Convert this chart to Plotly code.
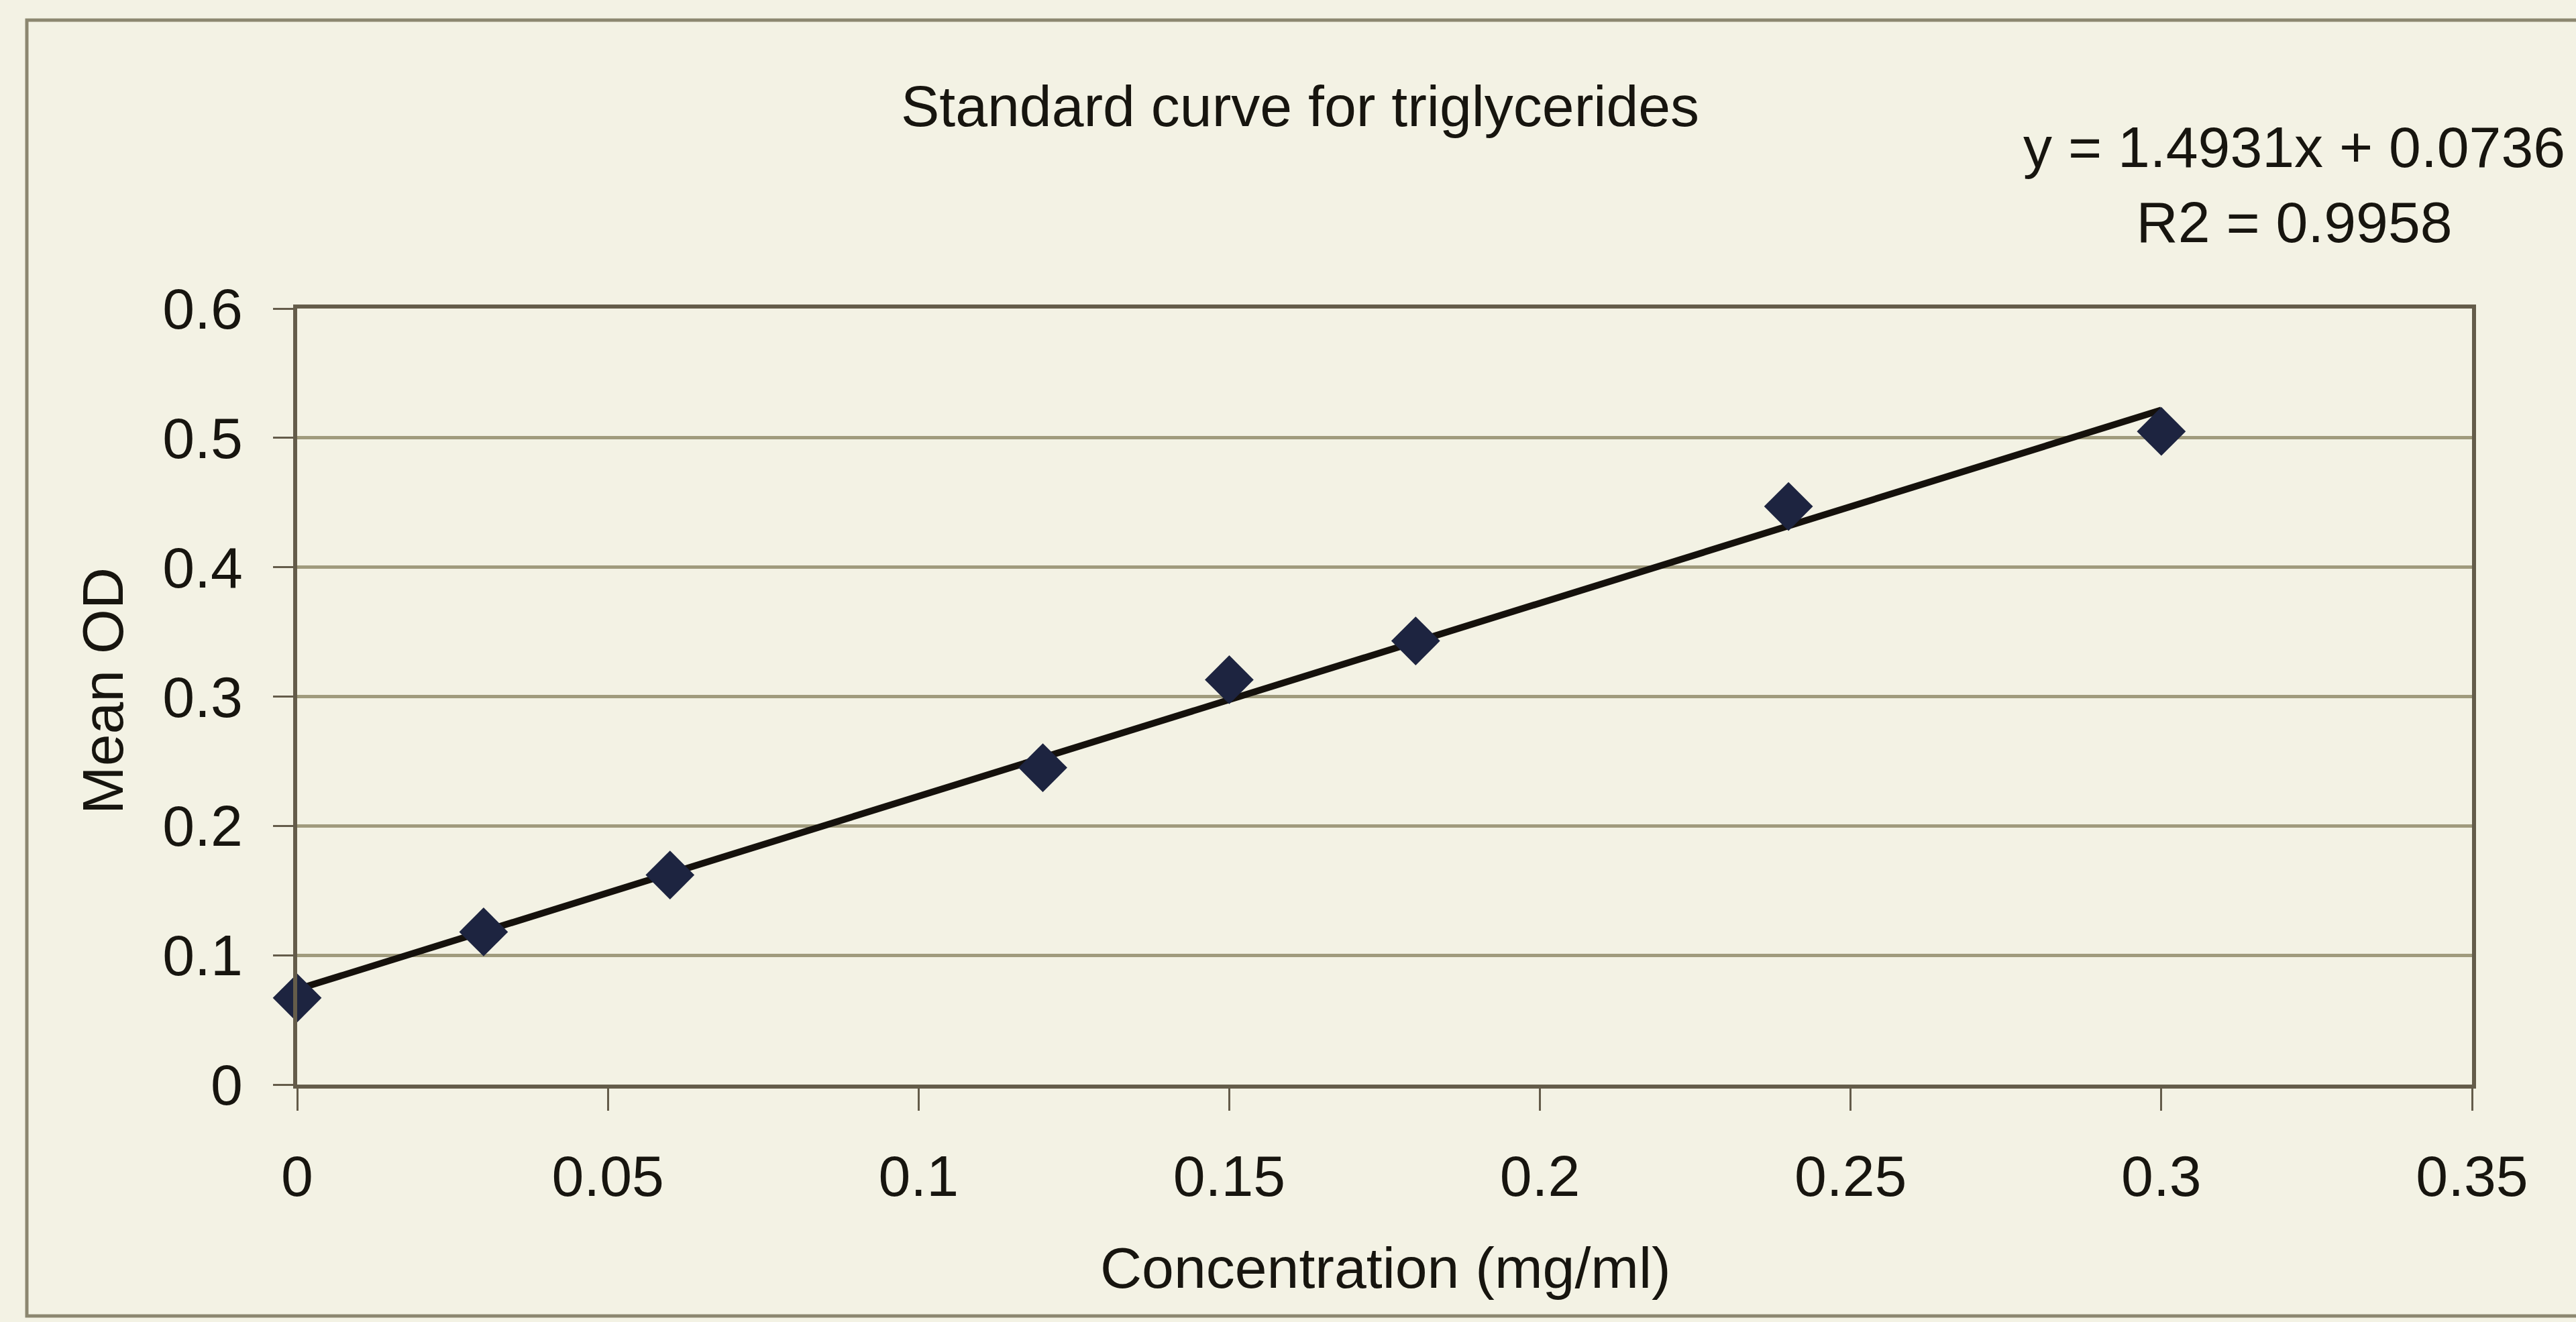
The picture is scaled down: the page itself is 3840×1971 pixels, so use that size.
import plotly.graph_objects as go

# Triglyceride standards: concentration (mg/ml) vs mean optical density
concentration = [0.0, 0.03, 0.06, 0.12, 0.15, 0.18, 0.24, 0.30]
mean_od = [0.067, 0.118, 0.162, 0.245, 0.313, 0.343, 0.447, 0.505]

# Linear trendline reported on the chart
slope = 1.4931
intercept = 0.0736
r_squared = 0.9958
fit_x = [min(concentration), max(concentration)]

x_ticks = [0, 0.05, 0.1, 0.15, 0.2, 0.25, 0.3, 0.35]
x_tick_labels = ["0", "0.05", "0.1", "0.15", "0.2", "0.25", "0.3", "0.35"]
y_ticks = [0, 0.1, 0.2, 0.3, 0.4, 0.5, 0.6]
y_tick_labels = ["0", "0.1", "0.2", "0.3", "0.4", "0.5", "0.6"]

W, H = 3840, 1971
L, R, T, B = 443, 155, 460, 354
plot_w = W - L - R
plot_h = H - T - B

PAPER = "#F3F2E4"
TEXT = "#17150f"
GRID = "rgb(160,155,125)"
AXIS = "rgb(100,92,74)"
FONT = "Liberation Sans, Arial, sans-serif"


def px_to_paper_x(px):
    return (px - L) / plot_w


def px_to_paper_y(py):
    return (H - B - py) / plot_h


fig = go.Figure()

fig.add_trace(go.Scatter(
    x=fit_x,
    y=[slope * v + intercept for v in fit_x],
    mode="lines",
    line=dict(color="#15110c", width=10),
    hoverinfo="skip",
    showlegend=False,
))

fig.add_trace(go.Scatter(
    x=concentration,
    y=mean_od,
    mode="markers",
    marker=dict(symbol="diamond", size=56, color="#1d2440",
                line=dict(width=0)),
    cliponaxis=False,
    showlegend=False,
))

fig.update_layout(
    width=W,
    height=H,
    margin=dict(l=L, r=R, t=T, b=B),
    paper_bgcolor=PAPER,
    plot_bgcolor=PAPER,
    font=dict(family=FONT, size=88, color=TEXT),
    showlegend=False,
    title=dict(
        text="Standard curve for triglycerides",
        x=px_to_paper_x(1938), xref="paper", xanchor="center",
        y=1 - 158 / H, yref="container", yanchor="middle",
        font=dict(family=FONT, size=86, color=TEXT),
    ),
    xaxis=dict(
        range=[0, 0.35],
        tickvals=x_ticks,
        ticktext=x_tick_labels,
        ticks="outside",
        ticklen=33,
        tickwidth=3,
        tickcolor=AXIS,
        showgrid=False,
        zeroline=False,
        showline=True,
        linecolor=AXIS,
        linewidth=6,
        mirror=True,
        tickfont=dict(family=FONT, size=86, color=TEXT),
        ticklabelstandoff=24,
    ),
    yaxis=dict(
        range=[0, 0.6],
        tickvals=y_ticks,
        ticktext=y_tick_labels,
        ticks="outside",
        ticklen=30,
        tickwidth=3,
        tickcolor=AXIS,
        showgrid=True,
        gridcolor=GRID,
        gridwidth=5,
        zeroline=False,
        showline=True,
        linecolor=AXIS,
        linewidth=6,
        mirror=True,
        tickfont=dict(family=FONT, size=86, color=TEXT),
        ticklabelstandoff=28,
    ),
    shapes=[
        # outer chart frame
        dict(type="rect", xref="paper", yref="paper",
             x0=px_to_paper_x(40), x1=px_to_paper_x(3880),
             y0=px_to_paper_y(1962), y1=px_to_paper_y(30),
             line=dict(color="rgb(140,135,112)", width=5),
             fillcolor="rgba(0,0,0,0)", layer="below"),
    ],
    annotations=[
        dict(text="Concentration (mg/ml)",
             x=px_to_paper_x(2065), y=px_to_paper_y(1890),
             xref="paper", yref="paper",
             xanchor="center", yanchor="middle", showarrow=False,
             font=dict(family=FONT, size=86, color=TEXT)),
        dict(text="Mean OD",
             x=px_to_paper_x(153), y=px_to_paper_y(1030),
             xref="paper", yref="paper", textangle=-90,
             xanchor="center", yanchor="middle", showarrow=False,
             font=dict(family=FONT, size=86, color=TEXT)),
        dict(text=f"y = {slope}x + {intercept}<br>R2 = {r_squared}",
             x=px_to_paper_x(3420), y=px_to_paper_y(275),
             xref="paper", yref="paper", align="center",
             xanchor="center", yanchor="middle", showarrow=False,
             font=dict(family=FONT, size=86, color=TEXT)),
    ],
)

fig.write_html("out.html")
